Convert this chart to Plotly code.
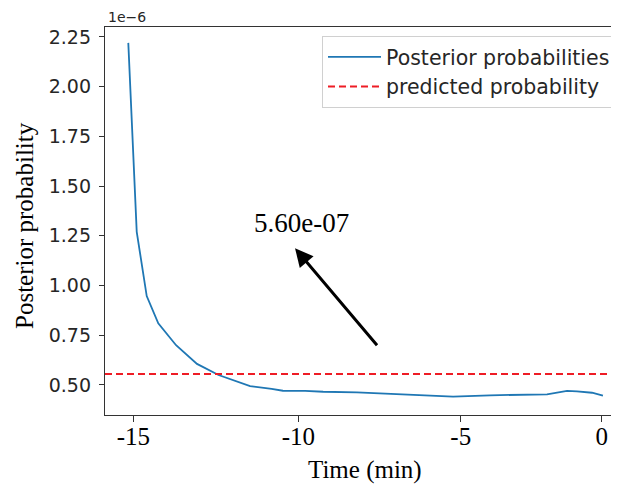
import plotly.graph_objects as go

# ---- data (posterior values in units of 1e-6) ----
time_min = [-15.16, -14.89, -14.57, -14.20, -13.63, -12.96, -12.27, -11.81, -11.26,
            -10.57, -10.21, -9.50, -8.92, -7.84, -6.78, -5.72, -4.76, -3.58, -2.52,
            -1.75, -1.11, -0.79, -0.31, 0.04]
posterior = [2.22, 1.27, 0.947, 0.81, 0.70, 0.606, 0.55, 0.525, 0.494,
             0.48, 0.471, 0.470, 0.466, 0.463, 0.455, 0.446, 0.441, 0.448, 0.450,
             0.453, 0.470, 0.468, 0.461, 0.446]
predicted = 0.555
x_range = [-15.906, 0.554]
y_range = [0.349, 2.300]
x_tickvals = [-15, -9.716, -4.515, 0]
x_ticktext = ["-15", "-10", "-5", "0"]
y_tickvals = [0.50, 0.75, 1.00, 1.25, 1.50, 1.75, 2.00, 2.25]

SANS = "DejaVu Sans"
SERIF = "Liberation Serif, Times New Roman, serif"
AX = "#333333"
PW, PH = 514, 388  # plot area size in px

fig = go.Figure()
fig.add_trace(go.Scatter(x=time_min, y=posterior, mode="lines",
                         name="Posterior probabilities",
                         line=dict(color="#1f77b4", width=1.8)))
fig.add_trace(go.Scatter(x=x_range, y=[predicted, predicted], mode="lines",
                         name="predicted probability",
                         line=dict(color="#ee1c25", width=2, dash="7px,4px")))

# page body has an 8px margin, so the figure is 8px smaller and offset
fig.update_layout(
    width=611, height=476,
    margin=dict(l=97, r=0, t=19, b=69, autoexpand=False),
    paper_bgcolor="white", plot_bgcolor="white",
    showlegend=True,
    legend=dict(x=(616 - 105) / PW, y=(415 - 36) / PH, xanchor="right", yanchor="top",
                bgcolor="rgba(255,255,255,0.9)", bordercolor="#d0d0d0", borderwidth=1,
                font=dict(family=SANS, size=20.5, color="#262626"),
                tracegroupgap=0, itemwidth=53),
    xaxis=dict(range=x_range, tickvals=x_tickvals, ticktext=x_ticktext,
               automargin=False,
               showgrid=False, zeroline=False, showline=True, linecolor=AX,
               linewidth=1.3, mirror=True, ticks="outside", ticklen=6,
               ticklabelstandoff=-7,
               tickcolor=AX, tickfont=dict(family=SERIF, size=25, color="black")),
    yaxis=dict(range=y_range, tickvals=y_tickvals, tickformat=".2f",
               automargin=False,
               showgrid=False, zeroline=False, showline=True, linecolor=AX,
               linewidth=1.3, ticks="outside", ticklen=5, tickcolor=AX,
               ticklabelstandoff=4,
               tickfont=dict(family=SANS, size=19, color="#262626")),
)

# axis titles
fig.add_annotation(text="Time (min)", xref="paper", yref="paper",
                   x=(365 - 105) / PW, y=(415 - 470) / PH,
                   xanchor="center", yanchor="middle", showarrow=False,
                   font=dict(family=SERIF, size=25, color="black"))
fig.add_annotation(text="Posterior probability", xref="paper", yref="paper",
                   x=(25 - 105) / PW, y=(415 - 226) / PH, textangle=-90,
                   xanchor="center", yanchor="middle", showarrow=False,
                   font=dict(family=SERIF, size=25, color="black"))
# offset text
fig.add_annotation(text="1e\u22126", xref="paper", yref="paper",
                   x=(107 - 105) / PW, y=(415 - 16.5) / PH,
                   xanchor="left", yanchor="middle", showarrow=False, borderpad=0,
                   font=dict(family=SANS, size=14, color="#262626"))
# arrow annotation
fig.add_annotation(x=-9.82, y=1.187, ax=-7.154, ay=0.692, xref="x", yref="y",
                   axref="x", ayref="y", text="", showarrow=True,
                   arrowhead=2, arrowsize=1.2, arrowwidth=3, arrowcolor="black")
fig.add_annotation(x=-9.61, y=1.314, xref="x", yref="y", text="5.60e-07",
                   showarrow=False, font=dict(family=SERIF, size=27, color="black"))

fig.write_html("out.html")
